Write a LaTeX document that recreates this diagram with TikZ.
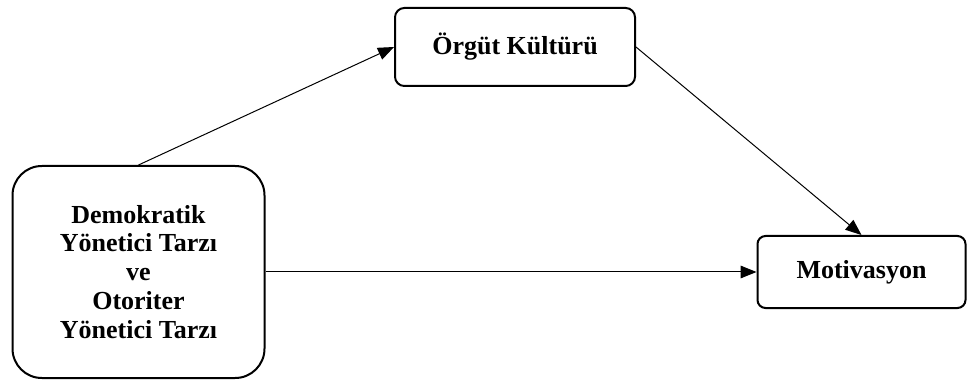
\documentclass[tikz,border=0pt]{standalone}
\usepackage{fontspec}
\setmainfont{Liberation Serif}
\usetikzlibrary{arrows.meta,positioning}
\tikzset{
  bigbox/.style={
    draw,
    line width=1.5pt,
    rounded corners=22pt,
    align=center,
    minimum width=189pt,
    minimum height=159pt,
    font=\bfseries\fontsize{19.5}{21.7}\selectfont
  },
  box/.style={
    draw,
    line width=1.5pt,
    rounded corners=7pt,
    align=center,
    font=\bfseries\fontsize{19.5}{21.7}\selectfont
  },
  arrow/.style={-{Triangle[length=12pt,width=9.5pt]}, line width=0.75pt}
}

\begin{document}
\begin{tikzpicture}[x=0.75pt,y=-0.75pt]
  \useasboundingbox (0,0) rectangle (968,381);
  \node[bigbox] (tarz) at (138.5,272) {Demokratik\\Yönetici Tarzı\\ve\\Otoriter\\Yönetici Tarzı};
  \node[box, minimum width=180pt, minimum height=58.5pt] (kultur) at (515,47) {Örgüt Kültürü};
  \node[box, minimum width=156pt, minimum height=54pt, rounded corners=6pt] (motiv) at (861.5,272) {Motivasyon};

  \draw[arrow] (tarz.north) -- (kultur.west);
  \draw[arrow] (kultur.east) -- (motiv.north);
  \draw[arrow] (tarz) -- (motiv);
\end{tikzpicture}
\end{document}
